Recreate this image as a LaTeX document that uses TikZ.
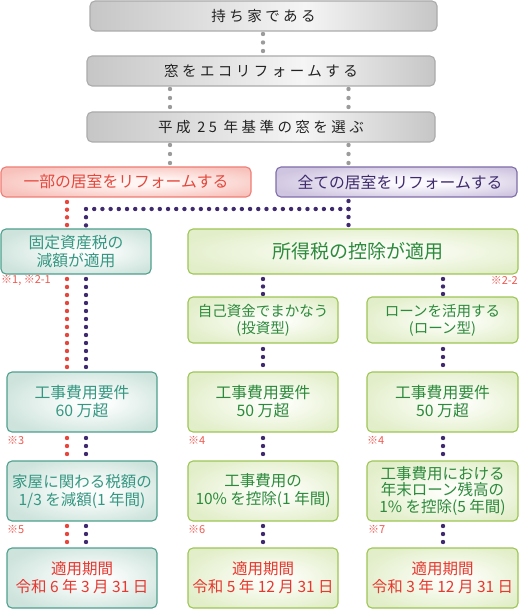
\documentclass[tikz,border=0pt]{standalone}
\usepackage{fontspec}
\setmainfont{Noto Sans CJK JP}
\newfontfamily\grayfont[LetterSpace=24]{Noto Sans CJK JP}
\usetikzlibrary{calc}
\definecolor{grayedge}{HTML}{C6C6C6}
\definecolor{grayhi}{HTML}{F5F5F5}
\definecolor{grayborder}{HTML}{ABABAB}
\definecolor{graytext}{HTML}{222222}
\definecolor{rededge}{HTML}{F8C2BC}
\definecolor{redhi}{HTML}{FFF6F4}
\definecolor{redborder}{HTML}{EE7D74}
\definecolor{redtext}{HTML}{E5473C}
\definecolor{puredge}{HTML}{CFC5E0}
\definecolor{purhi}{HTML}{FBF9FD}
\definecolor{purborder}{HTML}{7F6DAA}
\definecolor{purtext}{HTML}{3E2B6E}
\definecolor{tealedge}{HTML}{CDE3DC}
\definecolor{tealhi}{HTML}{FBFDFC}
\definecolor{tealborder}{HTML}{4EA08D}
\definecolor{tealtext}{HTML}{359782}
\definecolor{greenedge}{HTML}{E2EEC9}
\definecolor{greenhi}{HTML}{FBFDF6}
\definecolor{greenborder}{HTML}{9DC655}
\definecolor{greentext}{HTML}{2C8A3C}
\definecolor{pertext}{HTML}{E8372F}
\definecolor{notetext}{HTML}{F0584F}
\definecolor{gdot}{HTML}{9B9B9B}
\definecolor{rdot}{HTML}{E8453C}
\definecolor{pdot}{HTML}{3F2A70}
\pgfdeclarehorizontalshading{grayshade}{100bp}{color(0bp)=(grayedge); color(25bp)=(grayedge); color(56bp)=(grayhi); color(75bp)=(grayedge); color(100bp)=(grayedge)}
\pgfdeclareradialshading{redshade}{\pgfpoint{4bp}{0bp}}{color(0bp)=(redhi); color(6bp)=(redhi); color(30bp)=(rededge); color(50bp)=(rededge)}
\pgfdeclareradialshading{purshade}{\pgfpoint{6bp}{0bp}}{color(0bp)=(purhi); color(6bp)=(purhi); color(30bp)=(puredge); color(50bp)=(puredge)}
\pgfdeclareradialshading{tealshade}{\pgfpoint{4bp}{0bp}}{color(0bp)=(tealhi); color(6bp)=(tealhi); color(30bp)=(tealedge); color(50bp)=(tealedge)}
\pgfdeclareradialshading{greenshade}{\pgfpoint{4bp}{0bp}}{color(0bp)=(greenhi); color(6bp)=(greenhi); color(30bp)=(greenedge); color(50bp)=(greenedge)}
\begin{document}
\begin{tikzpicture}[x=1pt,y=-1pt,
  box/.style={rounded corners=5pt, line width=1.1pt, inner sep=0pt, outer sep=0pt, align=center, shade},
  graybox/.style={box, draw=grayborder, shading=grayshade, text=graytext,
    font=\grayfont\fontsize{14.5}{17}\selectfont, minimum width=348pt, minimum height=30pt},
  redbox/.style={box, draw=redborder, shading=redshade, text=redtext,
    font=\fontsize{15.8}{18}\selectfont, minimum width=250pt, minimum height=30pt},
  purbox/.style={box, draw=purborder, shading=purshade, text=purtext,
    font=\fontsize{15.8}{18}\selectfont, minimum width=241pt, minimum height=30pt},
  tealbox/.style={box, draw=tealborder, shading=tealshade, text=tealtext,
    font=\fontsize{15.8}{18}\selectfont, minimum width=150pt},
  greenbox/.style={box, draw=greenborder, shading=greenshade, text=greentext,
    font=\fontsize{15.8}{18}\selectfont, minimum width=150pt},
  note/.style={text=notetext, font=\fontsize{11}{13}\selectfont, inner sep=0pt},
  gd/.style={line width=4.4pt, line cap=round, draw=gdot},
  rd/.style={line width=4.4pt, line cap=round, draw=rdot},
  pd/.style={line width=4.4pt, line cap=round, draw=pdot},
  dl/.style n args={3}{shorten <=#1pt, shorten >=#3pt, dash pattern=on 0pt off #2pt}]
\useasboundingbox (0,0) rectangle (519,609);

% column coordinates
\coordinate (xg) at (263,0);
\coordinate (xa) at (170,0);
\coordinate (xb) at (348.5,0);
\coordinate (xr) at (67,0);
\coordinate (xp) at (86,0);
\coordinate (xm) at (263,0);
\coordinate (xn) at (443,0);
\coordinate (j) at (348.5,209);

% top gray boxes
\node[graybox, minimum width=347pt] (g1) at (263.5,16) {持ち家である};
\node[graybox] (g2) at (261,71) {窓をエコリフォームする};
\node[graybox] (g3) at (261,127) {平成 25 年基準の窓を選ぶ};

% choice boxes
\node[redbox] (red) at (126,182) {一部の居室をリフォームする};
\node[purbox] (pur) at (396.5,182) {\hspace*{7pt}全ての居室をリフォームする};

% second level
\node[tealbox, minimum height=45pt] (t1) at (76,251.5) {固定資産税の\\減額が適用};
\node[greenbox, minimum width=330pt, minimum height=45pt, font=\fontsize{19}{22}\selectfont] (gr) at (353,251.5) {\hspace*{10pt}所得税の控除が適用};
\node[greenbox, minimum height=46pt, font=\fontsize{14.5}{17}\selectfont] (self) at (263,320) {自己資金でまかなう\\(投資型)};
\node[greenbox, minimum width=151pt, minimum height=46pt, font=\fontsize{14.5}{17}\selectfont] (loan) at (442.5,320) {ローンを活用する\\(ローン型)};

% cost requirement
\node[tealbox, minimum height=60pt] (c1) at (82,402) {工事費用要件\\60 万超};
\node[greenbox, minimum height=60pt] (c2) at (263,402) {工事費用要件\\50 万超};
\node[greenbox, minimum width=151pt, minimum height=60pt] (c3) at (442.5,402) {工事費用要件\\50 万超};

% benefit
\node[tealbox, minimum height=60pt, font=\fontsize{15.5}{18}\selectfont] (b1) at (82,491) {家屋に関わる税額の\\1/3 を減額(1 年間)};
\node[greenbox, minimum height=60pt, font=\fontsize{15.5}{18}\selectfont] (b2) at (263,491) {工事費用の\\10\% を控除(1 年間)};
\node[greenbox, minimum width=151pt, minimum height=60pt, font=\fontsize{15.5}{16.5}\selectfont] (b3) at (442.5,491) {工事費用における\\年末ローン残高の\\1\% を控除(5 年間)};

% period
\node[tealbox, minimum height=60pt, text=pertext, font=\fontsize{15.5}{18}\selectfont] (p1) at (82,578) {適用期間\\令和 6 年 3 月 31 日};
\node[greenbox, minimum height=60pt, text=pertext, font=\fontsize{15.5}{18}\selectfont] (p2) at (263,578) {適用期間\\令和 5 年 12 月 31 日};
\node[greenbox, minimum width=151pt, minimum height=60pt, text=pertext, font=\fontsize{15.5}{18}\selectfont] (p3) at (442.5,578) {適用期間\\令和 3 年 12 月 31 日};

% notes
\node[note, anchor=west] (n1) at (1,280) {※1, ※2-1};
\node[note, anchor=east] (n22) at (518,280) {※2-2};
\node[note, anchor=west] (n3) at (7,440) {※3};
\node[note, anchor=west] (n4a) at (188,440) {※4};
\node[note, anchor=west] (n4b) at (367,440) {※4};
\node[note, anchor=west] (n5) at (7,529) {※5};
\node[note, anchor=west] (n6) at (188,529) {※6};
\node[note, anchor=west] (n7) at (368,529) {※7};

% gray connectors
\draw[gd, dl={3}{8.5}{4.7}] (g1.south -| xg) -- (g2.north -| xg);
\draw[gd, dl={3}{9}{4.7}] (g2.south -| xa) -- (g3.north -| xa);
\draw[gd, dl={3}{9}{4.7}] (g2.south -| xb) -- (g3.north -| xb);
\draw[gd, dl={3}{9}{3.7}] (g3.south -| xa) -- (red.north -| xa);
\draw[gd, dl={3}{9}{3.7}] (g3.south -| xb) -- (pur.north -| xb);

% red path
\draw[rd, dl={5}{7.67}{3.7}] (red.south -| xr) -- (t1.north -| xr);
\draw[rd, dl={5}{8}{4.7}] (t1.south -| xr) -- (c1.north -| xr);
\draw[rd, dl={6}{8}{6.7}] (c1.south -| xr) -- (b1.north -| xr);
\draw[rd, dl={5}{8}{5.7}] (b1.south -| xr) -- (p1.north -| xr);

% purple paths
\draw[pd, dl={4}{8}{3.7}] (pur.south -| xb) -- (gr.north -| xb);
\draw[pd, dl={0}{8.203}{3.3}] (j) -| (t1.north -| xp);
\draw[pd, dl={5}{8}{4.7}] (t1.south -| xp) -- (c1.north -| xp);
\draw[pd, dl={6}{8}{6.7}] (c1.south -| xp) -- (b1.north -| xp);
\draw[pd, dl={5}{8}{5.7}] (b1.south -| xp) -- (p1.north -| xp);

\draw[pd, dl={5}{7.5}{2.7}] (gr.south -| xm) -- (self.north -| xm);
\draw[pd, dl={5}{7.5}{2.7}] (gr.south -| xn) -- (loan.north -| xn);
\draw[pd, dl={6}{8}{6.7}] (self.south -| xm) -- (c2.north -| xm);
\draw[pd, dl={6}{8}{6.7}] (loan.south -| xn) -- (c3.north -| xn);
\draw[pd, dl={6}{8}{6.7}] (c2.south -| xm) -- (b2.north -| xm);
\draw[pd, dl={6}{8}{6.7}] (c3.south -| xn) -- (b3.north -| xn);
\draw[pd, dl={5}{8}{5.7}] (b2.south -| xm) -- (p2.north -| xm);
\draw[pd, dl={5}{8}{5.7}] (b3.south -| xn) -- (p3.north -| xn);
\end{tikzpicture}
\end{document}
